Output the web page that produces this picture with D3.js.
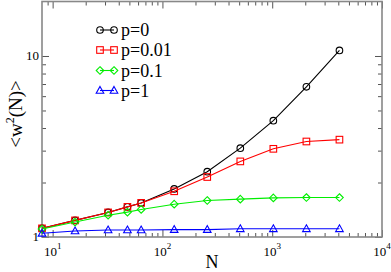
<!DOCTYPE html>
<html><head><meta charset="utf-8">
<script src="https://cdn.jsdelivr.net/npm/d3@7"></script>
<style>body{margin:0;background:#fff}svg{display:block}text{font-family:"Liberation Serif","Times New Roman",serif}</style>
</head><body><svg id="c" width="391" height="272"></svg>
<script>
const N = [8, 16, 32, 48, 64, 128, 256, 512, 1024, 2048, 4096];
const p0 = [1.116, 1.235, 1.367, 1.467, 1.543, 1.843, 2.296, 3.095, 4.39, 6.755, 10.74];
const p001 = [1.116, 1.235, 1.367, 1.467, 1.543, 1.789, 2.145, 2.616, 3.07, 3.37, 3.45];
const p01 = [1.106, 1.209, 1.32, 1.372, 1.42, 1.518, 1.591, 1.618, 1.644, 1.652, 1.652];
const p1 = [1.048, 1.079, 1.093, 1.093, 1.093, 1.099, 1.099, 1.11, 1.11, 1.11, 1.11];
const seriesNames = ["p=0", "p=0.01", "p=0.1", "p=1"];
const xMajor = [10, 100, 1000, 10000];
const xExp = [1, 2, 3, 4];
const yMajor = [1, 10];
const yLabels = ["1", "10"];

const series = [
  {name: seriesNames[0], vals: p0, color: "#000000", sym: "circle"},
  {name: seriesNames[1], vals: p001, color: "#ff0000", sym: "square"},
  {name: seriesNames[2], vals: p01, color: "#00ee00", sym: "diamond"},
  {name: seriesNames[3], vals: p1, color: "#0000ff", sym: "triangle"}
];

const svg = d3.select("#c");
const L = 42, R = 382, T = 1.5, B = 237;
const x = d3.scaleLog().domain([8, 10000]).range([L, R]);
const y = d3.scaleLog().domain([1, 20]).range([B, T]);

const xMinor = [];
[1, 10, 100, 1000].forEach(d => { for (let k = 2; k <= 9; k++) { const v = d * k; if (v > 8 && v < 10000) xMinor.push(v); } });
const yMinor = [];
[1, 10].forEach(d => { for (let k = 2; k <= 9; k++) { const v = d * k; if (v < 20) yMinor.push(v); } });

function ticks(axisFn, scale, vals, size, tr) {
  const g = svg.append("g").attr("transform", tr)
    .call(axisFn(scale).tickValues(vals).tickSize(size).tickFormat(""));
  g.select(".domain").remove();
  g.selectAll("line").attr("stroke", "#555").attr("stroke-width", 1);
}
ticks(d3.axisBottom, x, xMajor, -7, `translate(0,${B})`);
ticks(d3.axisBottom, x, xMinor, -4, `translate(0,${B})`);
ticks(d3.axisTop, x, xMajor, -7, `translate(0,${T})`);
ticks(d3.axisTop, x, xMinor, -4, `translate(0,${T})`);
ticks(d3.axisLeft, y, yMajor, -7, `translate(${L},0)`);
ticks(d3.axisLeft, y, yMinor, -4, `translate(${L},0)`);
ticks(d3.axisRight, y, yMajor, -7, `translate(${R},0)`);
ticks(d3.axisRight, y, yMinor, -4, `translate(${R},0)`);

svg.append("rect").attr("x", L).attr("y", T).attr("width", R - L).attr("height", B - T)
  .attr("fill", "none").attr("stroke", "#888").attr("stroke-width", 1.6);

// tick labels
xMajor.forEach((v, i) => {
  const t = svg.append("text").attr("x", x(v)).attr("y", 256).attr("text-anchor", "middle")
    .attr("font-size", 13).attr("fill", "#000");
  t.append("tspan").text("10");
  t.append("tspan").attr("font-size", 9).attr("dy", -7).text(xExp[i]);
});
yMajor.forEach((v, i) => {
  svg.append("text").attr("x", 39).attr("y", y(v) + 4).attr("text-anchor", "end")
    .attr("font-size", 13).attr("fill", "#000").text(yLabels[i]);
});

// axis titles
svg.append("text").attr("x", 212).attr("y", 268).attr("text-anchor", "middle")
  .attr("font-size", 18).text("N");
const yt = svg.append("text").attr("transform", "translate(22,114) rotate(-90)")
  .attr("text-anchor", "middle").attr("font-size", 19);
yt.append("tspan").text("<w");
yt.append("tspan").attr("font-size", 12).attr("dy", -8).text("2");
yt.append("tspan").attr("dy", 8).text("(N)>");

function marker(g, sym, cx, cy, color) {
  const s = 3.3;
  if (sym === "circle") g.append("circle").attr("cx", cx).attr("cy", cy).attr("r", s);
  else if (sym === "square") g.append("rect").attr("x", cx - s).attr("y", cy - s).attr("width", 2 * s).attr("height", 2 * s);
  else if (sym === "diamond") g.append("path").attr("d", `M${cx},${cy - 3.8}L${cx + 3.8},${cy}L${cx},${cy + 3.8}L${cx - 3.8},${cy}Z`);
  else g.append("path").attr("d", `M${cx},${cy - 4}L${cx + 3.8},${cy + 2.8}L${cx - 3.8},${cy + 2.8}Z`);
}

const line = d3.line().x(d => x(d[0])).y(d => y(d[1]));
series.forEach(s => {
  const pts = N.map((n, i) => [n, s.vals[i]]);
  const g = svg.append("g").attr("stroke", s.color).attr("fill", "none").attr("stroke-width", 1.1);
  g.append("path").attr("d", line(pts));
  pts.forEach(p => marker(g, s.sym, x(p[0]), y(p[1]), s.color));
});

// legend
const legY = [30, 50, 70.5, 90.5];
series.forEach((s, i) => {
  const g = svg.append("g").attr("stroke", s.color).attr("fill", "none").attr("stroke-width", 1.1);
  g.append("line").attr("x1", 100).attr("x2", 114).attr("y1", legY[i]).attr("y2", legY[i]);
  marker(g, s.sym, 100, legY[i], s.color);
  marker(g, s.sym, 114, legY[i], s.color);
  svg.append("text").attr("x", 121).attr("y", legY[i] + 6).attr("font-size", 18).text(s.name);
});
</script></body></html>
